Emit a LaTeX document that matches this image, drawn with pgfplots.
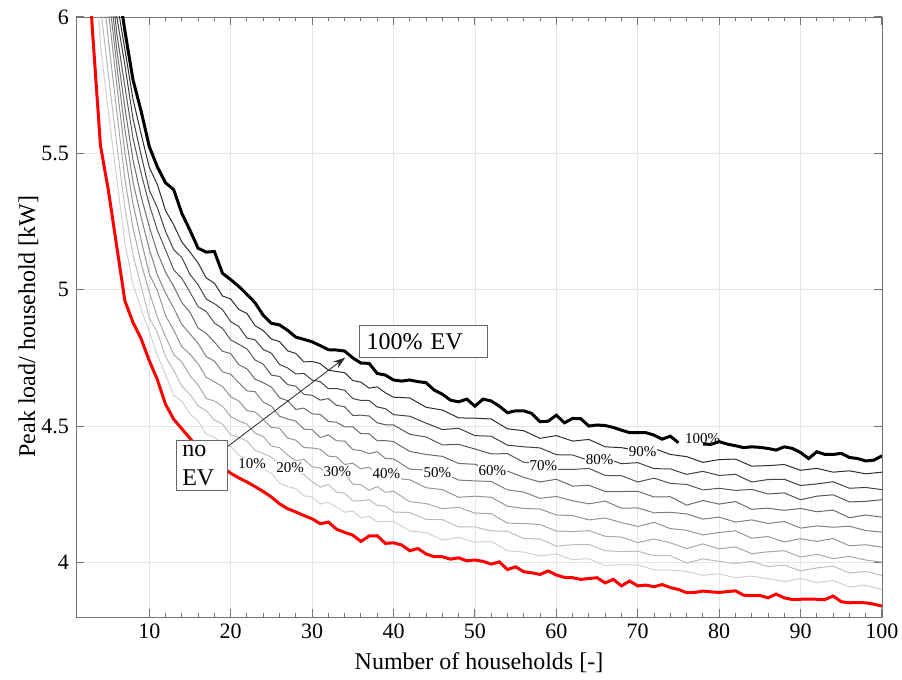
\documentclass[border=0pt]{standalone}
\usepackage{fontspec}
\setmainfont{Liberation Serif}
\usepackage{pgfplots}
\pgfplotsset{compat=1.18}
\usepackage{pgfplotstable}
\usetikzlibrary{arrows.meta}
\tikzset{lbl/.style={fill=white, inner sep=0.5pt, font=\fontsize{7.5}{8}\selectfont}}

\pgfplotstableread{
x r b
1 7.6 9.5
2 6.45 8.0
3 5.96 7.2
4 5.53 6.75
5 5.36 6.42
6 5.16 6.15
7 4.96 5.95
8 4.88 5.77
9 4.82 5.655
10 4.74 5.525
11 4.67 5.45
12 4.58 5.392
13 4.525 5.367
14 4.49 5.28
15 4.455 5.218
16 4.42 5.152
17 4.395 5.138
18 4.37 5.14
19 4.35 5.06
20 4.327 5.037
21 4.31 5.012
22 4.295 4.983
23 4.278 4.952
24 4.26 4.906
25 4.24 4.877
26 4.215 4.871
27 4.197 4.851
28 4.185 4.826
29 4.172 4.818
30 4.16 4.809
31 4.142 4.795
32 4.148 4.78
33 4.122 4.779
34 4.11 4.775
35 4.10 4.75
36 4.077 4.731
37 4.097 4.730
38 4.098 4.693
39 4.070 4.687
40 4.072 4.669
41 4.064 4.665
42 4.043 4.669
43 4.051 4.663
44 4.031 4.659
45 4.021 4.632
46 4.021 4.617
47 4.012 4.595
48 4.017 4.589
49 4.006 4.599
50 4.009 4.573
51 4.004 4.599
52 3.994 4.592
53 4.002 4.573
54 3.974 4.549
55 3.984 4.556
56 3.966 4.556
57 3.962 4.546
58 3.956 4.516
59 3.969 4.518
60 3.954 4.540
61 3.945 4.512
62 3.944 4.528
63 3.938 4.527
64 3.941 4.500
65 3.944 4.504
66 3.925 4.502
67 3.938 4.495
68 3.914 4.485
69 3.932 4.476
70 3.914 4.476
71 3.917 4.476
72 3.911 4.467
73 3.919 4.452
74 3.908 4.463
75 3.901 4.439
76 3.889 nan
77 3.890 nan
78 3.895 4.434
79 3.892 4.433
80 3.890 4.443
81 3.893 4.434
82 3.896 4.428
83 3.880 4.421
84 3.878 4.424
85 3.879 4.422
86 3.870 4.418
87 3.884 4.412
88 3.870 4.424
89 3.864 4.418
90 3.865 4.403
91 3.866 4.381
92 3.865 4.406
93 3.864 4.396
94 3.877 4.396
95 3.856 4.400
96 3.852 4.385
97 3.853 4.381
98 3.852 4.372
99 3.847 4.375
100 3.840 4.391
}\tblRB

\pgfplotstableread{
x g1 g2 g3 g4 g5 g6 g7 g8 g9
1 8.27 8.49 8.70 8.87 9.01 9.12 9.23 9.35 9.42
2 6.99 7.18 7.35 7.49 7.60 7.69 7.78 7.88 7.94
3 6.39 6.54 6.68 6.79 6.88 6.95 7.03 7.10 7.15
4 5.896 6.042 6.189 6.299 6.396 6.482 6.567 6.640 6.695
5 5.646 5.784 5.911 6.017 6.091 6.155 6.219 6.282 6.346
6 5.408 5.536 5.655 5.754 5.823 5.883 5.942 6.002 6.061
7 5.174 5.300 5.407 5.504 5.591 5.669 5.746 5.824 5.882
8 5.022 5.129 5.227 5.316 5.396 5.476 5.556 5.628 5.699
9 4.928 5.013 5.097 5.182 5.266 5.342 5.427 5.494 5.571
10 4.847 4.897 4.991 5.058 5.149 5.231 5.312 5.366 5.449
11 4.759 4.843 4.899 4.997 5.054 5.137 5.218 5.300 5.385
12 4.689 4.754 4.828 4.905 4.988 5.064 5.146 5.214 5.290
13 4.613 4.705 4.763 4.852 4.933 5.012 5.073 5.147 5.238
14 4.591 4.646 4.735 4.791 4.873 4.953 5.042 5.118 5.175
15 4.545 4.617 4.684 4.764 4.838 4.917 4.991 5.056 5.138
16 4.519 4.574 4.651 4.728 4.803 4.860 4.938 5.018 5.098
17 4.471 4.556 4.601 4.679 4.755 4.840 4.920 4.966 5.043
18 4.459 4.522 4.592 4.662 4.738 4.808 4.878 4.949 5.024
19 4.432 4.507 4.573 4.645 4.699 4.774 4.858 4.927 4.977
20 4.426 4.468 4.535 4.608 4.690 4.766 4.816 4.883 4.966
21 4.393 4.459 4.519 4.592 4.659 4.725 4.800 4.865 4.928
22 4.381 4.445 4.507 4.557 4.629 4.710 4.783 4.823 4.913
23 4.347 4.411 4.474 4.552 4.626 4.672 4.742 4.816 4.868
24 4.342 4.399 4.462 4.525 4.588 4.659 4.727 4.781 4.850
25 4.327 4.386 4.427 4.495 4.573 4.643 4.687 4.767 4.819
26 4.291 4.360 4.421 4.492 4.536 4.604 4.682 4.726 4.810
27 4.278 4.352 4.394 4.456 4.526 4.593 4.652 4.713 4.776
28 4.271 4.330 4.372 4.448 4.518 4.561 4.646 4.691 4.766
29 4.244 4.322 4.378 4.421 4.489 4.566 4.616 4.693 4.735
30 4.240 4.296 4.351 4.420 4.487 4.545 4.613 4.669 4.737
31 4.214 4.276 4.346 4.415 4.458 4.543 4.595 4.663 4.729
32 4.221 4.286 4.323 4.390 4.468 4.517 4.601 4.637 4.705
33 4.203 4.258 4.333 4.387 4.446 4.514 4.576 4.638 4.700
34 4.184 4.254 4.327 4.359 4.445 4.497 4.571 4.631 4.696
35 4.189 4.226 4.287 4.364 4.414 4.497 4.539 4.601 4.667
36 4.164 4.226 4.285 4.343 4.410 4.472 4.540 4.594 4.661
37 4.169 4.230 4.265 4.349 4.399 4.472 4.537 4.594 4.639
38 4.150 4.209 4.278 4.325 4.406 4.446 4.512 4.570 4.644
39 4.150 4.207 4.257 4.321 4.381 4.447 4.505 4.564 4.622
40 4.151 4.185 4.261 4.309 4.380 4.443 4.504 4.542 4.606
42 4.115 4.183 4.223 4.303 4.342 4.407 4.470 4.536 4.603
44 4.110 4.158 4.216 4.274 4.339 4.396 4.460 4.511 4.569
46 4.082 4.157 4.197 4.267 4.329 4.389 4.431 4.487 4.559
48 4.092 4.130 4.202 4.239 4.302 4.363 4.433 4.492 4.530
50 4.074 4.130 4.181 4.243 4.299 4.360 4.416 4.465 4.529
52 4.077 4.116 4.179 4.239 4.297 4.337 4.398 4.463 4.526
54 4.043 4.114 4.144 4.206 4.266 4.335 4.399 4.430 4.490
56 4.038 4.088 4.143 4.198 4.258 4.312 4.367 4.424 4.483
58 4.024 4.086 4.139 4.196 4.235 4.295 4.364 4.420 4.455
60 4.031 4.060 4.115 4.174 4.242 4.305 4.341 4.395 4.465
62 4.010 4.065 4.113 4.172 4.226 4.280 4.341 4.394 4.445
64 4.014 4.066 4.117 4.156 4.215 4.283 4.345 4.374 4.451
66 3.988 4.043 4.096 4.163 4.225 4.260 4.319 4.383 4.424
68 3.992 4.040 4.093 4.146 4.199 4.260 4.318 4.362 4.421
70 3.991 4.041 4.073 4.132 4.200 4.261 4.295 4.366 4.409
72 3.973 4.025 4.086 4.147 4.182 4.240 4.309 4.344 4.418
74 3.972 4.025 4.072 4.124 4.184 4.241 4.290 4.343 4.396
76 3.967 3.998 4.051 4.118 4.178 4.210 4.286 4.323 4.388
78 3.953 4.013 4.068 4.101 4.159 4.227 4.266 4.334 4.367
80 3.958 4.004 4.050 4.110 4.166 4.214 4.272 4.319 4.377
82 3.944 3.996 4.057 4.116 4.148 4.223 4.264 4.323 4.379
84 3.950 4.004 4.032 4.089 4.156 4.195 4.268 4.295 4.353
86 3.940 3.985 4.039 4.095 4.143 4.199 4.251 4.304 4.355
88 3.930 3.990 4.043 4.075 4.150 4.191 4.255 4.305 4.359
90 3.941 3.969 4.020 4.087 4.126 4.198 4.230 4.282 4.338
92 3.926 3.980 4.030 4.077 4.134 4.186 4.243 4.288 4.345
94 3.934 3.987 4.014 4.088 4.129 4.192 4.248 4.296 4.331
96 3.910 3.961 4.022 4.061 4.133 4.164 4.222 4.272 4.336
98 3.917 3.967 4.009 4.065 4.117 4.174 4.224 4.275 4.325
100 3.900 3.952 4.001 4.056 4.111 4.166 4.230 4.267 4.331
}\tblG

\begin{document}
\begin{tikzpicture}
\path[use as bounding box] (-38pt,-31.5pt) rectangle (413pt,308.5pt);
\begin{axis}[
  scale only axis, width=403pt, height=300pt,
  xmin=1, xmax=100, ymin=3.8, ymax=6,
  xtick={10,20,...,100}, ytick={4,4.5,5,5.5,6},
  minor x tick num=4,
  tick align=inside,
  major tick length=4pt, minor tick length=2pt,
  axis line style={black!55},
  tick style={black!55, line width=0.5pt},
  grid=major, major grid style={black!10, line width=0.4pt},
  tick label style={font=\fontsize{11}{13}\selectfont},
  label style={font=\fontsize{12}{14.5}\selectfont},
  xlabel={Number of households [-]},
  ylabel={Peak load/ household [kW]},
  ylabel style={at={(axis description cs:-0.038,0.484)}, anchor=south},
  /pgf/number format/assume math mode=true,
  unbounded coords=jump,
]
\addplot[black!18, line width=0.5pt] table[x=x,y=g1]{\tblG};
\addplot[black!26, line width=0.5pt] table[x=x,y=g2]{\tblG};
\addplot[black!34, line width=0.5pt] table[x=x,y=g3]{\tblG};
\addplot[black!42, line width=0.5pt] table[x=x,y=g4]{\tblG};
\addplot[black!50, line width=0.5pt] table[x=x,y=g5]{\tblG};
\addplot[black!58, line width=0.5pt] table[x=x,y=g6]{\tblG};
\addplot[black!66, line width=0.5pt] table[x=x,y=g7]{\tblG};
\addplot[black!74, line width=0.5pt] table[x=x,y=g8]{\tblG};
\addplot[black!82, line width=0.5pt] table[x=x,y=g9]{\tblG};
\addplot[red, line width=1.5pt] table[x=x,y=r]{\tblRB};
\addplot[black, line width=1.5pt] table[x=x,y=b]{\tblRB};

\node[lbl] at (axis cs:22.64,4.362) {10\%};
\node[lbl] at (axis cs:27.31,4.348) {20\%};
\node[lbl] at (axis cs:33.09,4.334) {30\%};
\node[lbl] at (axis cs:39.12,4.324) {40\%};
\node[lbl] at (axis cs:45.39,4.330) {50\%};
\node[lbl] at (axis cs:52.15,4.338) {60\%};
\node[lbl] at (axis cs:58.42,4.356) {70\%};
\node[lbl] at (axis cs:65.31,4.376) {80\%};
\node[lbl] at (axis cs:70.60,4.408) {90\%};
\node[inner sep=0.5pt, font=\fontsize{7.5}{8}\selectfont] at (axis cs:77.97,4.455) {100\%};

\draw[-{Stealth[length=6pt,width=4pt]}, black!85, line width=0.4pt] (axis cs:19.53,4.423) -- (axis cs:34.07,4.751);
\node[draw=black!60, fill=white, anchor=west, text width=57pt, inner xsep=3.5pt, inner ysep=0pt, minimum height=16pt, align=left, font=\fontsize{12}{14.5}\selectfont] at (axis cs:35.8,4.811) {100\% EV};
\node[draw=black!60, fill=white, anchor=north west, text width=19.5pt, inner xsep=2.9pt, inner ysep=1pt, minimum height=25pt, align=left, font=\fontsize{12}{14.5}\selectfont] at (axis cs:13.30,4.450) {no\\EV};
\end{axis}
\end{tikzpicture}
\end{document}
